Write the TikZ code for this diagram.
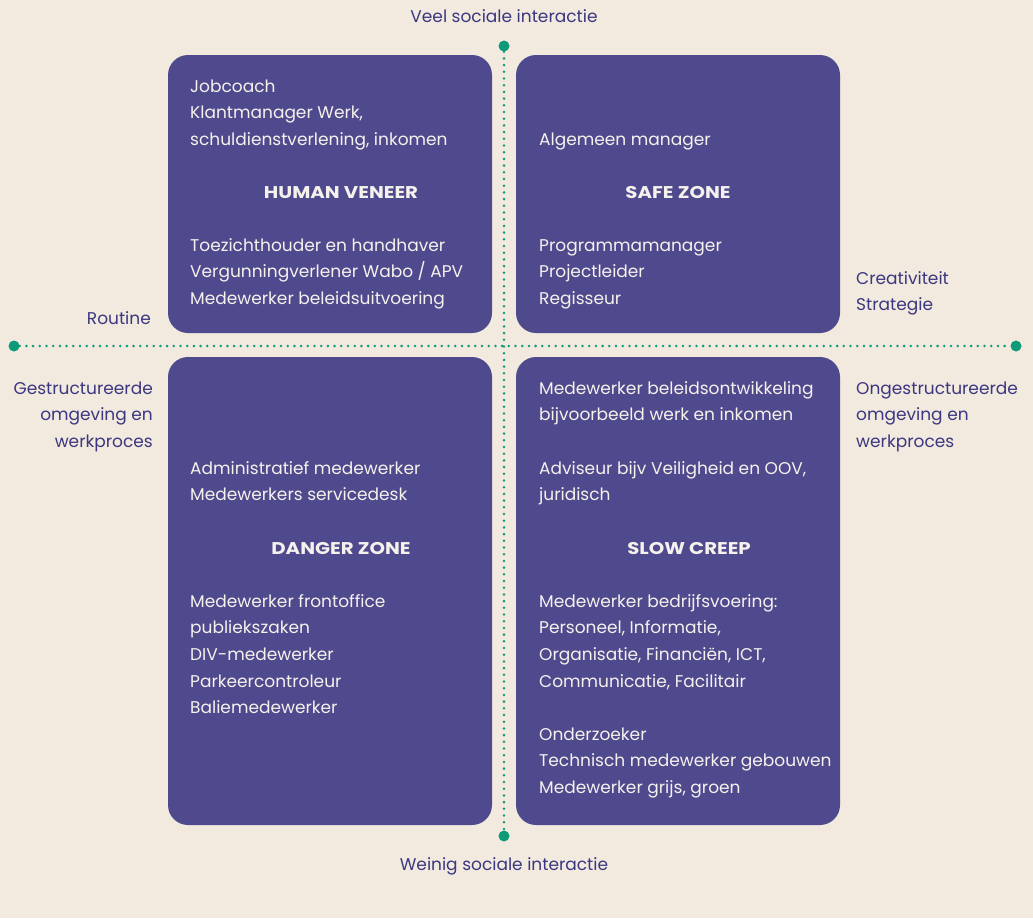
\documentclass[tikz,border=0pt]{standalone}
\usepackage{fontspec}
\setmainfont{Poppins}
\usetikzlibrary{calc}
\definecolor{bg}{HTML}{F2EADF}
\definecolor{boxc}{HTML}{4F4A8D}
\definecolor{dotc}{HTML}{0C9A78}
\definecolor{labc}{HTML}{3B3780}
\definecolor{txtc}{HTML}{F5F1EC}
\newcommand{\hdtext}[1]{\scalebox{1.16}[1]{#1}}
\tikzset{
  quad/.style={fill=boxc, rounded corners=20pt, draw=none},
  item/.style={text=txtc, anchor=base west, align=left, inner sep=0pt,
    font=\fontsize{17}{26.7}\selectfont},
  head/.style={text=txtc, anchor=base, inner sep=0pt,
    font=\fontsize{17}{26.7}\selectfont\bfseries},
  axlab/.style={text=labc, inner sep=0pt, font=\fontsize{17}{26.7}\selectfont},
  dotline/.style={dotc, line width=2.8pt, line cap=round, dash pattern=on 0pt off 6.7pt},
  enddot/.style={circle, fill=dotc, minimum size=11pt, inner sep=0pt},
}
\begin{document}
\begin{tikzpicture}[x=1pt,y=-1pt]
\fill[bg] (0,0) rectangle (1033,918);
\useasboundingbox (0,0) rectangle (1033,918);
% quadrants
\fill[quad] (168,55) rectangle (492,333);
\fill[quad] (516,55) rectangle (840,333);
\fill[quad] (168,357) rectangle (492,825);
\fill[quad] (516,357) rectangle (840,825);
% axes
\node[enddot] (L) at (14,346) {};
\node[enddot] (R) at (1016,346) {};
\node[enddot] (T) at (504,46) {};
\node[enddot] (B) at (504,836) {};
\draw[dotline] (L) -- (R);
\draw[dotline] (T) -- (B);
% axis labels (base anchor = last line baseline)
\node[axlab, anchor=base] (lt) at (504,23) {Veel sociale interactie};
\node[axlab, anchor=base] (lb) at (504,870) {Weinig sociale interactie};
\node[axlab, anchor=base east] (lr) at (151,324) {Routine};
\node[axlab, anchor=base west, align=left] (lc) at (856,310.7) {Creativiteit\\Strategie};
\node[axlab, anchor=base east, align=right] (lg) at (153,447.4) {Gestructureerde\\omgeving en\\werkproces};
\node[axlab, anchor=base west, align=left] (lo) at (856,447.4) {Ongestructureerde\\omgeving en\\werkproces};
% TL
\node[item] (tl1) at (190,145.4) {Jobcoach\\Klantmanager Werk,\\schuldienstverlening, inkomen};
\node[head] (tlh) at (341,198) {\hdtext{HUMAN VENEER}};
\node[item] (tl2) at (190,304.4) {Toezichthouder en handhaver\\Vergunningverlener Wabo / APV\\Medewerker beleidsuitvoering};
% TR
\node[item] (tr1) at (539,145) {Algemeen manager};
\node[head] (trh) at (678,198) {\hdtext{SAFE ZONE}};
\node[item] (tr2) at (539,304.4) {Programmamanager\\Projectleider\\Regisseur};
% BL
\node[item] (bl1) at (190,500.7) {Administratief medewerker\\Medewerkers servicedesk};
\node[head] (blh) at (341,554) {\hdtext{DANGER ZONE}};
\node[item] (bl2) at (190,713.8) {Medewerker frontoffice\\publiekszaken\\DIV-medewerker\\Parkeercontroleur\\Baliemedewerker};
% BR
\node[item] (br1) at (539,420.7) {Medewerker beleidsontwikkeling\\bijvoorbeeld werk en inkomen};
\node[item] (br2) at (539,500.7) {Adviseur bijv Veiligheid en OOV,\\juridisch};
\node[head] (brh) at (689,554) {\hdtext{SLOW CREEP}};
\node[item] (br3) at (539,687.1) {Medewerker bedrijfsvoering:\\Personeel, Informatie,\\Organisatie, Financiën, ICT,\\Communicatie, Facilitair};
\node[item] (br4) at (539,793.4) {Onderzoeker\\Technisch medewerker gebouwen\\Medewerker grijs, groen};
\end{tikzpicture}
\end{document}
